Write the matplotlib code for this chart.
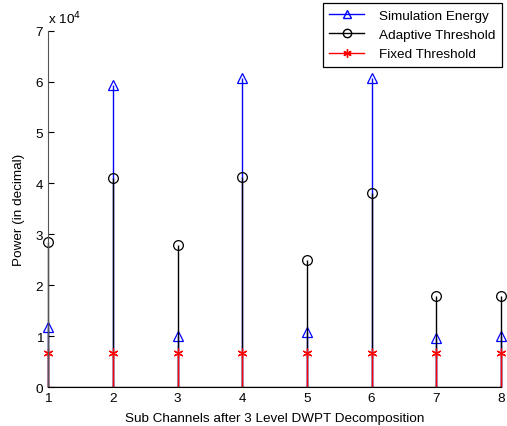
import numpy as np
import matplotlib
matplotlib.use('Agg')
import matplotlib.pyplot as plt
from matplotlib.legend_handler import HandlerLine2D
from matplotlib.ticker import FuncFormatter

plt.rcParams['font.family'] = ['Liberation Sans', 'DejaVu Sans']
plt.rcParams['font.size'] = 9.7

channels = [1, 2, 3, 4, 5, 6, 7, 8]
sim_energy = [11900, 59300, 10000, 60600, 10800, 60600, 9700, 10100]
adaptive_thr = [28500, 41000, 27900, 41200, 24900, 38200, 17800, 17800]
fixed_thr = [6800, 6800, 6800, 6800, 6800, 6800, 6800, 6800]


class EndMarkerHandler(HandlerLine2D):
    # marker sits near the right end of the legend line
    def get_xdata(self, legend, xdescent, ydescent, width, height, fontsize):
        xdata = np.array([-xdescent, -xdescent + width])
        return xdata, np.array([-xdescent + width * 0.9])


fig = plt.figure(figsize=(5.07, 4.27), dpi=100)
ax = fig.add_axes([0.095, 0.091, 0.893, 0.835])

series = [
    (sim_energy, 'b', '^', 'Simulation Energy'),
    (adaptive_thr, 'k', 'o', 'Adaptive Threshold'),
    (fixed_thr, 'r', (6, 2, 0), 'Fixed Threshold'),
]
handles = []
for vals, col, mk, lab in series:
    ax.vlines(channels, 0, vals, colors=col, linewidth=1.0, clip_on=False)
    h, = ax.plot(channels, vals, linestyle='-', linewidth=0, color=col,
                 marker=mk, markersize=7, markerfacecolor='none',
                 markeredgecolor=col, markeredgewidth=0.9, label=lab,
                 clip_on=False)
    handles.append(h)

ax.axhline(0, color='k', linewidth=1.0)

ax.set_xlim(1, 8)
ax.set_ylim(0, 70000)
ax.set_xticks(channels)
ax.set_yticks(np.arange(0, 70001, 10000))
ax.yaxis.set_major_formatter(FuncFormatter(lambda v, p: '%d' % round(v / 1e4)))
ax.tick_params(direction='in', length=4, width=0.8, labelsize=9.7)
ax.spines['top'].set_visible(False)
ax.spines['right'].set_visible(False)
ax.spines['left'].set_color('#555555')

ax.text(0.0, 1.012, r'x 10$^4$', transform=ax.transAxes, fontsize=9.7,
        ha='left', va='bottom')

ax.set_xlabel('Sub Channels after 3 Level DWPT Decomposition', labelpad=6)
ax.set_ylabel('Power (in decimal)', labelpad=8)

leg_lines = []
for h in handles:
    l, = ax.plot([], [], color=h.get_color(), linewidth=1.0, marker=h.get_marker(),
                 markersize=6, markerfacecolor='none', markeredgecolor=h.get_color(),
                 label=h.get_label())
    leg_lines.append(l)
leg = ax.legend(handles=leg_lines, loc='upper right', bbox_to_anchor=(1.003, 1.078),
                handler_map={l: EndMarkerHandler() for l in leg_lines},
                frameon=True, fancybox=False, edgecolor='k', framealpha=1,
                handlelength=2.6, handletextpad=1.1, borderpad=0.5,
                borderaxespad=0, labelspacing=0.5, fontsize=9.7)
leg.get_frame().set_linewidth(0.9)

fig.savefig('out.png', dpi=100)
